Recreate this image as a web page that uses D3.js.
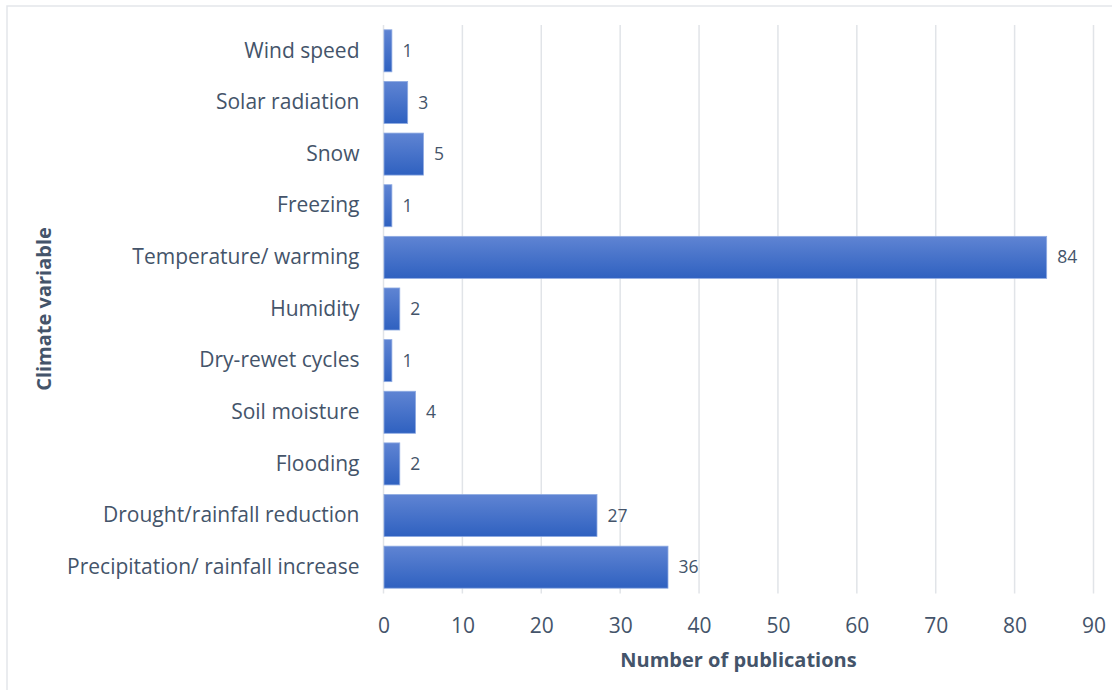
<!DOCTYPE html>
<html>
<head>
<meta charset="utf-8">
<script src="https://cdn.jsdelivr.net/npm/d3@7"></script>
<style>
  html, body { margin: 0; padding: 0; background: #fff; }
  svg { display: block; }
  text { font-family: "Open Sans", "Noto Sans", sans-serif; fill: #44546a; }
</style>
</head>
<body>
<svg id="chart" width="1112" height="690"></svg>
<script>
// Climate variables studied, top-to-bottom order
const categories = [
  "Wind speed",
  "Solar radiation",
  "Snow",
  "Freezing",
  "Temperature/ warming",
  "Humidity",
  "Dry-rewet cycles",
  "Soil moisture",
  "Flooding",
  "Drought/rainfall reduction",
  "Precipitation/ rainfall increase"
];
const publications = [1, 3, 5, 1, 84, 2, 1, 4, 2, 27, 36];
const xTicks = [0, 10, 20, 30, 40, 50, 60, 70, 80, 90];
const xTitle = "Number of publications";
const yTitle = "Climate variable";

const data = categories.map((c, i) => ({ name: c, value: publications[i] }));

const svg = d3.select("#chart");
const W = 1112, H = 690;
const margin = { left: 383.5, right: 18.5, top: 25, bottom: 97 };

// outer chart frame
svg.append("rect")
  .attr("x", 7).attr("y", 6)
  .attr("width", W + 20).attr("height", H + 20)
  .attr("fill", "#fff")
  .attr("stroke", "#e3e6ea").attr("stroke-width", 1.5);

const x = d3.scaleLinear().domain([0, 90]).range([margin.left, W - margin.right]);
const y = d3.scaleBand().domain(categories)
  .range([margin.top, H - margin.bottom])
  .paddingInner(0.186).paddingOuter(0.093);

const defs = svg.append("defs");
const grad = defs.append("linearGradient")
  .attr("id", "barFill").attr("x1", 0).attr("y1", 0).attr("x2", 0).attr("y2", 1);
grad.append("stop").attr("offset", "0%").attr("stop-color", "#5f84d3");
grad.append("stop").attr("offset", "100%").attr("stop-color", "#2f61c0");

// vertical gridlines
const gridBottom = H - margin.bottom + 0.5;
svg.append("g")
  .selectAll("line")
  .data(xTicks)
  .join("line")
  .attr("x1", d => x(d)).attr("x2", d => x(d))
  .attr("y1", margin.top).attr("y2", gridBottom)
  .attr("stroke", "#e1e4e8").attr("stroke-width", 1.5);

// bars
svg.append("g")
  .selectAll("rect")
  .data(data)
  .join("rect")
  .attr("x", x(0) + 0.5)
  .attr("y", d => y(d.name))
  .attr("width", d => x(d.value) - x(0))
  .attr("height", y.bandwidth())
  .attr("fill", "url(#barFill)")
  .attr("stroke", "#8eaae2").attr("stroke-width", 0.8);

// value labels
svg.append("g")
  .selectAll("text")
  .data(data)
  .join("text")
  .attr("x", d => x(d.value) + 11)
  .attr("y", d => y(d.name) + y.bandwidth() / 2)
  .attr("dy", "0.35em")
  .attr("font-size", 17.5)
  .text(d => d.value);

// category axis
const yAxis = d3.axisLeft(y).tickSize(0).tickPadding(24);
const gy = svg.append("g").attr("transform", `translate(${x(0)},0)`).call(yAxis);
gy.select(".domain").remove();
gy.selectAll("text")
  .attr("font-size", 21)
  .style("font-family", "'Open Sans', sans-serif")
  .attr("fill", "#44546a");

// value axis
const xAxis = d3.axisBottom(x).tickValues(xTicks).tickSize(0).tickPadding(25);
const gx = svg.append("g").attr("transform", `translate(0,${gridBottom})`).call(xAxis);
gx.select(".domain").remove();
gx.selectAll("text")
  .attr("font-size", 21)
  .style("font-family", "'Open Sans', sans-serif")
  .attr("fill", "#44546a");

// axis titles
svg.append("text")
  .attr("x", (x(0) + x(90)) / 2)
  .attr("y", 660)
  .attr("dy", "0.35em")
  .attr("text-anchor", "middle")
  .attr("font-size", 20)
  .attr("font-weight", "bold")
  .text(xTitle);

svg.append("text")
  .attr("transform", `translate(44,${(margin.top + H - margin.bottom) / 2}) rotate(-90)`)
  .attr("dy", "0.35em")
  .attr("text-anchor", "middle")
  .attr("font-size", 20)
  .attr("font-weight", "bold")
  .text(yTitle);
</script>
</body>
</html>
